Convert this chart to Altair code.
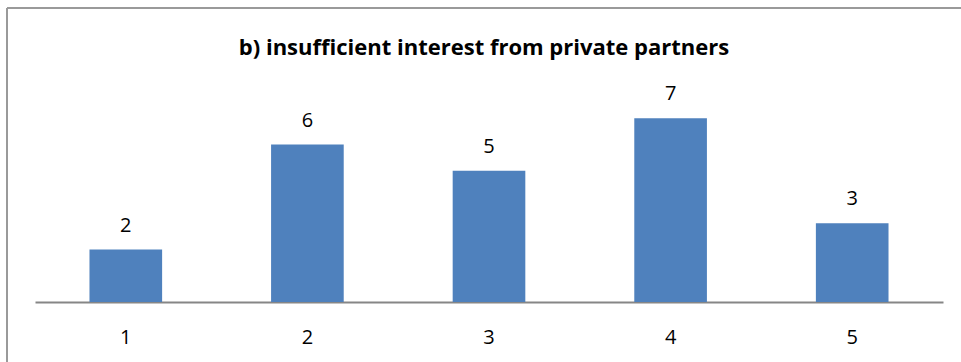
import altair as alt
import pandas as pd

categories = ["1", "2", "3", "4", "5"]
values = [2, 6, 5, 7, 3]
title_text = "b) insufficient interest from private partners"

df = pd.DataFrame({"cat": categories, "val": values})

FONT = "Open Sans"

base = alt.Chart(df)

bars = base.mark_bar(color="#4F81BD", clip=False).encode(
    x=alt.X("cat:N", sort=categories,
            scale=alt.Scale(paddingInner=0.6, paddingOuter=0.3),
            axis=alt.Axis(title=None, labelAngle=0, ticks=False, domainColor="#868686",
                          domainWidth=2, labelFontSize=20, labelFont=FONT,
                          labelColor="#000000", labelPadding=25, grid=False)),
    y=alt.Y("val:Q", scale=alt.Scale(domain=[0, 8]), axis=None),
)

labels = base.mark_text(baseline="alphabetic", dy=-18, fontSize=20, font=FONT, color="#000000").encode(
    x=alt.X("cat:N", sort=categories),
    y=alt.Y("val:Q"),
    text=alt.Text("val:Q"),
)

one = pd.DataFrame({"t": [title_text]})

title_mark = alt.Chart(one).mark_text(
    font=FONT, fontSize=22, fontWeight="bold", color="#000000",
    align="center", baseline="alphabetic"
).encode(x=alt.value(449), y=alt.value(-37), text="t:N")

border_left = alt.Chart(one).mark_rule(color="#9a9a9a", strokeWidth=2).encode(
    x=alt.value(-28), y=alt.value(-84), y2=alt.value(300)
)
border_top = alt.Chart(one).mark_rule(color="#9a9a9a", strokeWidth=2).encode(
    x=alt.value(-28), x2=alt.value(960), y=alt.value(-84)
)

chart = alt.layer(bars, labels, title_mark, border_left, border_top).properties(
    width=908,
    height=210,
    padding={"left": 35, "top": 92, "right": 18, "bottom": 60},
    autosize=alt.AutoSizeParams(type="none"),
).configure(background="white").configure_view(stroke=None)

chart.save("out.html", embed_options={"renderer": "svg", "actions": False})
